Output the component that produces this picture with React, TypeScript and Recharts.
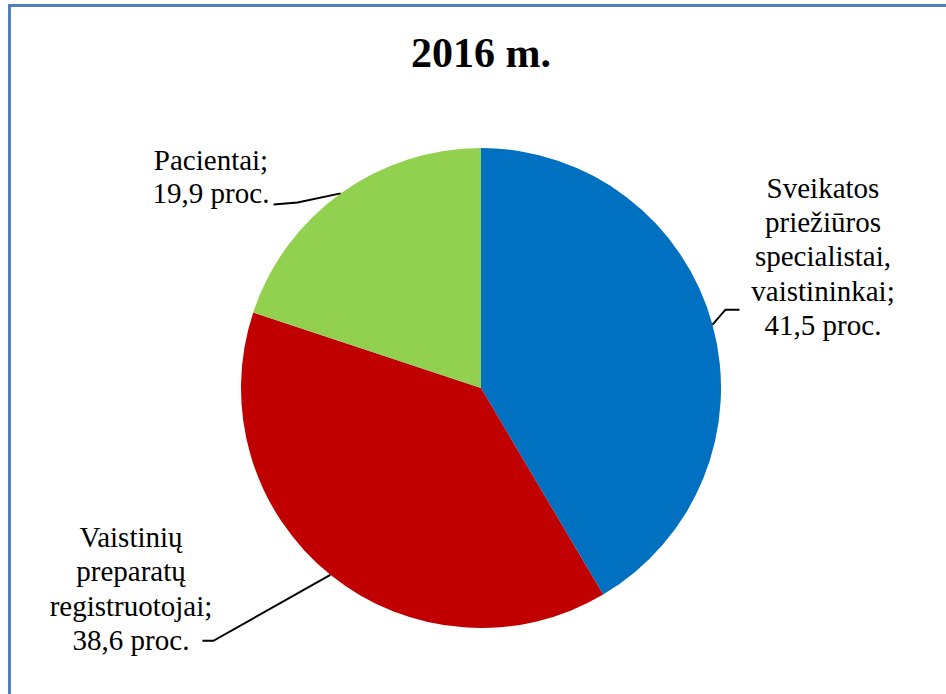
import { Pie, PieChart, Cell } from "recharts";

const title = "2016 m.";
const categories = [
  ["Sveikatos", "priežiūros", "specialistai,", "vaistininkai;"],
  ["Vaistinių", "preparatų", "registruotojai;"],
  ["Pacientai;"],
];
const shares = [41.5, 38.6, 19.9];
const colors = ["#0070C0", "#C00000", "#92D050"];

const data = shares.map((value, i) => ({ name: categories[i].join(" "), value, lines: categories[i] }));

// label placement: elbow/end relative to the arc point, text centre x and last baseline
const labelLayout = [
  { elbow: [13, -15], end: [27, -15], textX: 823, lastBaseline: 335, lineH: 34.3 },
  { elbow: [-117, 66], end: [-128, 66], textX: 131, lastBaseline: 650, lineH: 34.5 },
  { elbow: [-43, 9], end: [-67, 11], textX: 211, lastBaseline: 203, lineH: 33 },
];

const RAD = Math.PI / 180;
const font = "Liberation Serif";

function renderLabel(props: any) {
  const { cx, cy, midAngle, outerRadius, index, value } = props;
  const ax = cx + outerRadius * Math.cos(-midAngle * RAD);
  const ay = cy + outerRadius * Math.sin(-midAngle * RAD);
  const l = labelLayout[index];
  const lines = [...data[index].lines, `${String(value).replace(".", ",")} proc.`];
  const first = l.lastBaseline - l.lineH * (lines.length - 1);
  return (
    <g key={`lbl-${index}`}>
      <polyline
        points={`${ax},${ay} ${ax + l.elbow[0]},${ay + l.elbow[1]} ${ax + l.end[0]},${ay + l.end[1]}`}
        fill="none"
        stroke="#000"
        strokeWidth={2}
      />
      {lines.map((t, i) => (
        <text
          key={i}
          x={l.textX}
          y={first + i * l.lineH}
          textAnchor="middle"
          fontFamily={font}
          fontSize={29}
          fill="#000"
        >
          {t}
        </text>
      ))}
    </g>
  );
}

export default function App() {
  return (
    <div style={{ position: "absolute", left: 0, top: 0, width: 946, height: 694, background: "#fff", overflow: "hidden" }}>
      <div
        style={{
          position: "absolute",
          left: 8,
          top: 4,
          width: 960,
          height: 720,
          borderLeft: "3px solid #4F81BD",
          borderTop: "3px solid #4F81BD",
        }}
      />
      <PieChart
        width={946}
        height={694}
        margin={{ top: 0, right: 0, bottom: 0, left: 0 }}
        style={{ position: "absolute", left: 0, top: 0 }}
      >
        <text x={481} y={67} textAnchor="middle" fontFamily={font} fontSize={42} fontWeight="bold" fill="#000">
          {title}
        </text>
        <Pie
          data={data}
          dataKey="value"
          nameKey="name"
          cx={481}
          cy={388}
          outerRadius={240}
          startAngle={90}
          endAngle={-270}
          stroke="none"
          label={renderLabel}
          labelLine={false}
          isAnimationActive={false}
        >
          {data.map((d, i) => (
            <Cell key={d.name} fill={colors[i]} />
          ))}
        </Pie>
      </PieChart>
    </div>
  );
}
